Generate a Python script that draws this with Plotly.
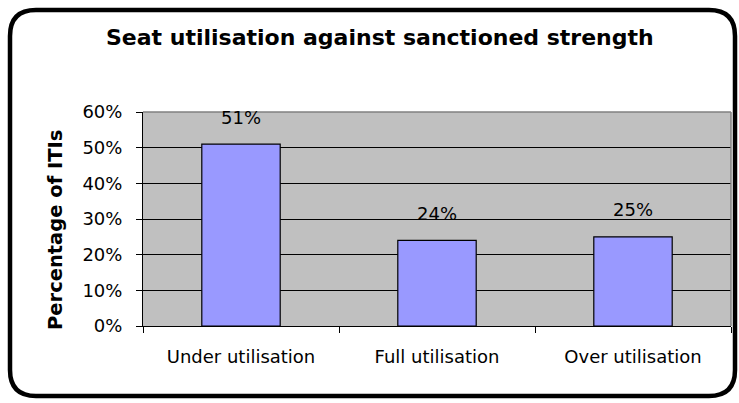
import plotly.graph_objects as go

# Data
categories = ["Under utilisation", "Full utilisation", "Over utilisation"]
share_pct = [51, 24, 25]
y_ticks = [0, 10, 20, 30, 40, 50, 60]
y_tick_labels = [f"{v}%" for v in y_ticks]

W, H = 739, 403
L, R, T, B = 143, 8, 112, 77
PW, PH = W - L - R, H - T - B


def px_x(x):
    return (x - L) / PW


def px_y(y):
    return (H - B - y) / PH


FONT = "DejaVu Sans, Liberation Sans, Arial, sans-serif"

fig = go.Figure(
    go.Bar(
        x=categories,
        y=share_pct,
        width=0.4,
        marker=dict(color="#9999FF", line=dict(color="#000000", width=1.2)),
        hoverinfo="skip",
    )
)

# value labels above the bars
for c, v in zip(categories, share_pct):
    fig.add_annotation(
        x=c, y=v, text=f"{v}%", showarrow=False, yshift=27,
        font=dict(family=FONT, size=18, color="#000000"),
    )

# rounded outer frame
x0, x1, y0, y1, r = px_x(10), px_x(735), px_y(10), px_y(396), 26
rx, ry = r / PW, r / PH
frame = (
    f"M {x0 + rx},{y0} L {x1 - rx},{y0} Q {x1},{y0} {x1},{y0 - ry} "
    f"L {x1},{y1 + ry} Q {x1},{y1} {x1 - rx},{y1} "
    f"L {x0 + rx},{y1} Q {x0},{y1} {x0},{y1 + ry} "
    f"L {x0},{y0 - ry} Q {x0},{y0} {x0 + rx},{y0} Z"
)
fig.add_shape(type="path", path=frame, xref="paper", yref="paper",
              line=dict(color="#000000", width=4.5), layer="above")

# plot area fill and grey top/right border
fig.add_shape(type="rect", xref="paper", yref="paper", x0=0, x1=1, y0=0, y1=1,
              fillcolor="#C0C0C0", line=dict(width=0), layer="below")
fig.add_shape(type="line", xref="paper", yref="paper", x0=0, x1=1, y0=1, y1=1,
              line=dict(color="#808080", width=1.5), layer="above")
fig.add_shape(type="line", xref="paper", yref="paper", x0=1, x1=1, y0=0, y1=1,
              line=dict(color="#808080", width=1.5), layer="above")

# chart title and y-axis title
fig.add_annotation(
    text="<b>Seat utilisation against sanctioned strength</b>",
    xref="paper", yref="paper", x=px_x(380), y=px_y(37),
    showarrow=False, xanchor="center", yanchor="middle",
    font=dict(family=FONT, size=22, color="#000000"),
)
fig.add_annotation(
    text="<b>Percentage of ITIs</b>",
    xref="paper", yref="paper", x=px_x(55), y=px_y(230),
    showarrow=False, textangle=-90, xanchor="center", yanchor="middle",
    font=dict(family=FONT, size=19.5, color="#000000"),
)

fig.update_layout(
    width=W, height=H,
    margin=dict(l=L, r=R, t=T, b=B, autoexpand=False),
    paper_bgcolor="#FFFFFF",
    plot_bgcolor="rgba(0,0,0,0)",
    showlegend=False,
    bargap=0.6,
    font=dict(family=FONT, size=18, color="#000000"),
)
fig.update_xaxes(
    showline=True, linecolor="#000000", linewidth=1,
    ticks="outside", tickson="boundaries", ticklen=6, tickcolor="#000000",
    ticklabelstandoff=14,
    showgrid=False, fixedrange=True,
    tickfont=dict(family=FONT, size=18, color="#000000"),
)
fig.update_yaxes(
    range=[0, 60], tickmode="array", tickvals=y_ticks, ticktext=y_tick_labels,
    showline=True, linecolor="#000000", linewidth=1,
    ticks="outside", ticklen=6, tickcolor="#000000",
    ticklabelstandoff=10,
    showgrid=True, gridcolor="#000000", gridwidth=1,
    zeroline=False, fixedrange=True,
    tickfont=dict(family=FONT, size=18, color="#000000"),
)

fig.write_html("out.html", config={"displayModeBar": False})
